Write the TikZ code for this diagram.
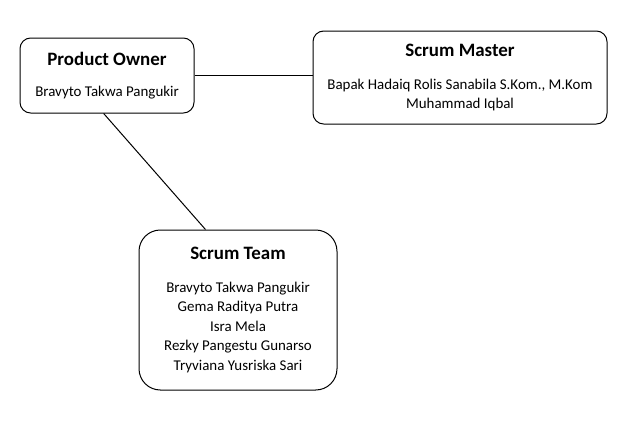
\documentclass[tikz,border=0pt]{standalone}
\usepackage{fontspec}
\setmainfont{Carlito}
\usetikzlibrary{positioning}

\tikzset{
  rolebox/.style={draw, line width=0.75pt, rounded corners=8pt, align=center, inner sep=0pt,
    font=\fontsize{11.2}{14.6}\selectfont},
  link/.style={line width=0.75pt}
}
\newcommand{\roletitle}[1]{{\fontsize{14.2}{17}\selectfont\bfseries #1}}

\begin{document}
\begin{tikzpicture}[x=0.75pt,y=-0.75pt]
            \useasboundingbox (0,0) rectangle (638,422);
            \node[rolebox, minimum width=130.5pt, minimum height=56.25pt](po) at (107,75.5)
                {\roletitle{Product Owner}\\[9pt] Bravyto Takwa Pangukir};
            \node[rolebox, minimum width=220.5pt, minimum height=69.75pt](sm) at (460,77.5)
                {\roletitle{Scrum Master}\\[10pt] Bapak Hadaiq Rolis Sanabila S.Kom., M.Kom\\ Muhammad Iqbal};
            \node[rolebox, rounded corners=16pt, minimum width=148.5pt, minimum height=120pt](team) at (238,310)
                {\roletitle{Scrum Team}\\[10pt] Bravyto Takwa Pangukir\\ Gema Raditya Putra\\ Isra Mela\\
                 Rezky Pangestu Gunarso\\ Tryviana Yusriska Sari};
            \draw[link] (po.east) -- (po.east -| sm.west);
            \draw[link] (po.265) -- (team.112);
        \end{tikzpicture}
\end{document}
